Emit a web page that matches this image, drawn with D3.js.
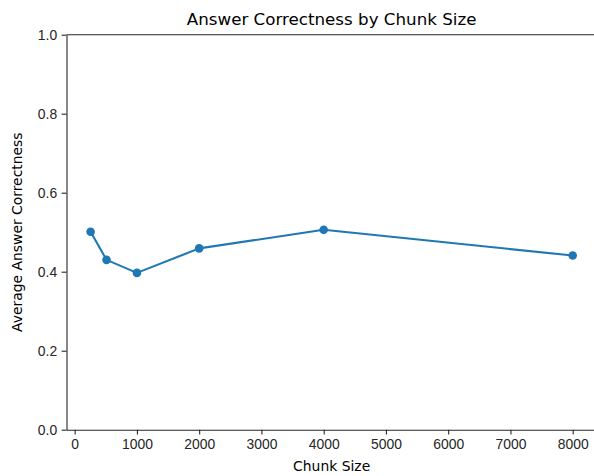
<!DOCTYPE html>
<html>
<head>
<meta charset="utf-8">
<script src="https://cdn.jsdelivr.net/npm/d3@7"></script>
<style>
  body { margin: 0; background: #fff; overflow: hidden; }
  svg { display: block; font-family: "DejaVu Sans", sans-serif; }
  .tick text { fill: #262626; font-size: 13.9px; }
  .domain, .tick line { stroke: #262626; stroke-width: 1.1px; }
</style>
</head>
<body>
<svg class="chart"></svg>
<script>
// chart data
var chunkSizes = [256, 512, 1000, 2000, 4000, 8000];
var correctness = [0.501, 0.430, 0.397, 0.459, 0.506, 0.441];
var xTicks = [0, 1000, 2000, 3000, 4000, 5000, 6000, 7000, 8000];
var yTicks = [0.0, 0.2, 0.4, 0.6, 0.8, 1.0];

var W = 594, H = 476;
var margin = { top: 34.7, left: 66.5 },
    width = 530.3,
    height = 395;

var svg = d3.select(".chart").attr("width", W).attr("height", H);
var chart = svg.append("g")
    .attr("transform", "translate(" + margin.left + "," + margin.top + ")");

// matplotlib style 5% padding on x
var pad = (8000 - 256) * 0.05;
var x = d3.scaleLinear().domain([256 - pad, 8000 + pad]).range([0, width]);
var y = d3.scaleLinear().domain([0, 1]).range([height, 0]);

var xAxis = d3.axisBottom(x).tickValues(xTicks).tickFormat(d3.format("d"))
    .tickSize(4.9).tickSizeOuter(0).tickPadding(4.5);
var yAxis = d3.axisLeft(y).tickValues(yTicks).tickFormat(d3.format(".1f"))
    .tickSize(4.9).tickSizeOuter(0).tickPadding(4.5);

chart.append("g").attr("transform", "translate(0," + height + ")").call(xAxis);
chart.append("g").call(yAxis);

// top spine (right spine falls outside the cropped picture)
chart.append("line").attr("x1", 0).attr("x2", width).attr("y1", 0).attr("y2", 0)
    .attr("stroke", "#262626").attr("stroke-width", 1.1);

var pts = chunkSizes.map(function (d, i) { return { x: d, y: correctness[i] }; });

chart.append("path")
    .datum(pts)
    .attr("fill", "none")
    .attr("stroke", "#1f77b4")
    .attr("stroke-width", 2.1)
    .attr("stroke-linejoin", "round")
    .attr("d", d3.line().x(d => x(d.x)).y(d => y(d.y)));

chart.selectAll("circle.pt").data(pts)
    .enter().append("circle")
    .attr("class", "pt")
    .attr("cx", d => x(d.x))
    .attr("cy", d => y(d.y))
    .attr("r", 4.3)
    .attr("fill", "#1f77b4");

// title and axis labels
svg.append("text")
    .attr("x", margin.left + width / 2).attr("y", 24.5)
    .attr("text-anchor", "middle")
    .attr("font-size", "16.7px").attr("fill", "#000")
    .text("Answer Correctness by Chunk Size");

svg.append("text")
    .attr("x", margin.left + width / 2).attr("y", 471)
    .attr("text-anchor", "middle")
    .attr("font-size", "13.9px").attr("fill", "#000")
    .text("Chunk Size");

svg.append("text")
    .attr("transform", "translate(22," + (margin.top + height / 2) + ") rotate(-90)")
    .attr("text-anchor", "middle")
    .attr("font-size", "13.9px").attr("fill", "#000")
    .text("Average Answer Correctness");
</script>
</body>
</html>
